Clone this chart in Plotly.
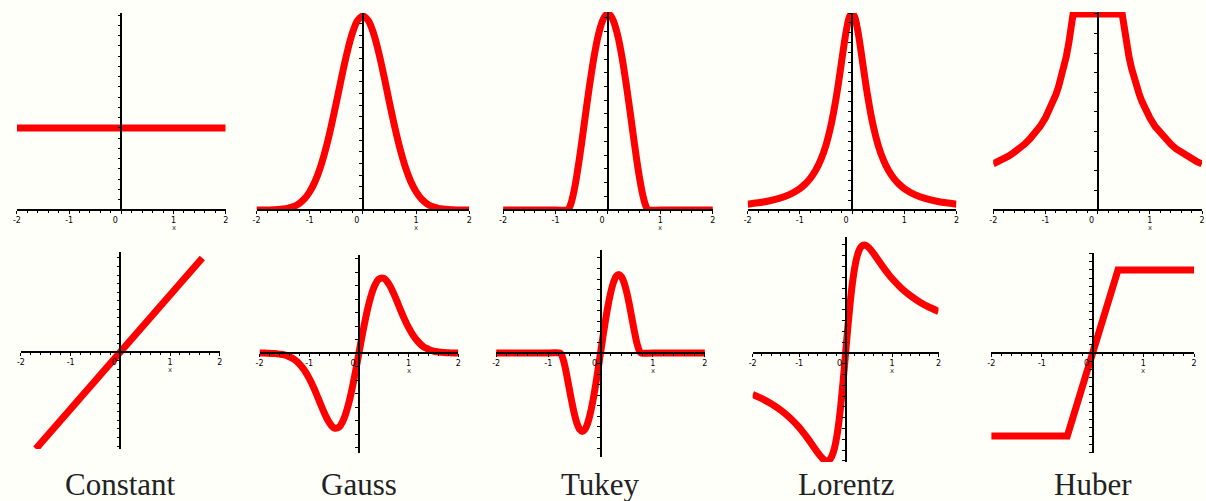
import plotly.graph_objects as go

W, H = 1206, 501
BG = "#fffffa"
RED = "#ff0000"

# ---------------- data ----------------
TITLES = ["Constant", "Gauss", "Tukey", "Lorentz", "Huber"]
X_TICK_VALS = [-2, -1, 0, 1, 2]
X_TICK_TEXT = ["-2", "-1", "0\u2003\u2002", "1", "2"]
X_MINOR_VALS = [-1.8, -1.6, -1.4, -1.2, -0.8, -0.6, -0.4, -0.2,
                0.2, 0.4, 0.6, 0.8, 1.2, 1.4, 1.6, 1.8]

# Constant
CONST_W_X = [-2.0, 2.0]
CONST_W = [1.0, 1.0]
CONST_P_X = [-1.7, 1.65]
CONST_P = [-1.7, 1.65]

# Gauss
GAUSS_X = [-2.0, -1.9, -1.8, -1.7, -1.6, -1.5, -1.4, -1.3, -1.2, -1.1, -1.0,
           -0.9, -0.8, -0.7, -0.6, -0.5, -0.4, -0.3, -0.2, -0.1, 0.0,
           0.1, 0.2, 0.3, 0.4, 0.5, 0.6, 0.7, 0.8, 0.9, 1.0,
           1.1, 1.2, 1.3, 1.4, 1.5, 1.6, 1.7, 1.8, 1.9, 2.0]
GAUSS_W = [0.0, 0.0, 0.0, 0.001, 0.002, 0.005, 0.01, 0.018, 0.033, 0.057, 0.094,
           0.147, 0.22, 0.314, 0.427, 0.553, 0.685, 0.808, 0.91, 0.977, 1.0,
           0.977, 0.91, 0.808, 0.685, 0.553, 0.427, 0.314, 0.22, 0.147, 0.094,
           0.057, 0.033, 0.018, 0.01, 0.005, 0.002, 0.001, 0.0, 0.0, 0.0]
GAUSS_P = [0.0, 0.0, -0.001, -0.002, -0.004, -0.007, -0.014, -0.023, -0.04, -0.063, -0.094,
           -0.132, -0.176, -0.22, -0.256, -0.277, -0.274, -0.242, -0.182, -0.098, 0.0,
           0.098, 0.182, 0.242, 0.274, 0.277, 0.256, 0.22, 0.176, 0.132, 0.094,
           0.063, 0.04, 0.023, 0.014, 0.007, 0.004, 0.002, 0.001, 0.0, 0.0]

# Tukey
TUKEY_X = [-2.0, -1.5, -1.0, -0.78, -0.75, -0.7, -0.65, -0.6, -0.55, -0.5, -0.45,
           -0.4, -0.35, -0.3, -0.25, -0.2, -0.15, -0.1, -0.05, 0.0,
           0.05, 0.1, 0.15, 0.2, 0.25, 0.3, 0.35, 0.4, 0.45, 0.5,
           0.55, 0.6, 0.65, 0.7, 0.75, 0.78, 1.0, 1.5, 2.0]
TUKEY_W = [0.0, 0.0, 0.0, 0.0, 0.0057, 0.038, 0.0933, 0.167, 0.2528, 0.347, 0.4451,
           0.543, 0.6378, 0.726, 0.8051, 0.873, 0.9274, 0.9674, 0.9918, 1.0,
           0.9918, 0.9674, 0.9274, 0.873, 0.8051, 0.726, 0.6378, 0.543, 0.4451, 0.347,
           0.2528, 0.167, 0.0933, 0.038, 0.0057, 0.0, 0.0, 0.0, 0.0]
TUKEY_P = [0.0, 0.0, 0.0, 0.0, -0.0043, -0.0265, -0.0606, -0.1, -0.139, -0.1735, -0.2003,
           -0.2172, -0.2232, -0.2178, -0.2013, -0.1746, -0.1391, -0.0967, -0.0496, 0.0,
           0.0496, 0.0967, 0.1391, 0.1746, 0.2013, 0.2178, 0.2232, 0.2172, 0.2003, 0.1735,
           0.139, 0.1, 0.0606, 0.0265, 0.0043, 0.0, 0.0, 0.0, 0.0]

# Lorentz
LORENTZ_W_X = [-2.0, -1.8, -1.6, -1.4, -1.2, -1.0, -0.9, -0.8, -0.7, -0.6, -0.5, -0.4,
               -0.3, -0.25, -0.2, -0.15, -0.1, -0.05, 0.0, 0.05, 0.1, 0.15, 0.2, 0.25,
               0.3, 0.4, 0.5, 0.6, 0.7, 0.8, 0.9, 1.0, 1.2, 1.4, 1.6, 1.8, 2.0]
LORENTZ_W = [0.0297, 0.0364, 0.0457, 0.0588, 0.0784, 0.109, 0.1314, 0.1607, 0.2, 0.254,
             0.329, 0.4336, 0.5765, 0.662, 0.754, 0.845, 0.9245, 0.98, 1.0, 0.98, 0.9245,
             0.845, 0.754, 0.662, 0.5765, 0.4336, 0.329, 0.254, 0.2, 0.1607, 0.1314, 0.109,
             0.0784, 0.0588, 0.0457, 0.0364, 0.0297]
LORENTZ_P_X = [-2.0, -1.8, -1.6, -1.4, -1.2, -1.0, -0.9, -0.8, -0.7, -0.6, -0.5, -0.45,
               -0.4, -0.35, -0.3, -0.25, -0.2, -0.15, -0.1, -0.05, 0.0,
               0.05, 0.1, 0.15, 0.2, 0.25, 0.3, 0.35, 0.4, 0.45, 0.5,
               0.6, 0.7, 0.8, 0.9, 1.0, 1.2, 1.4, 1.6, 1.8, 2.0]
LORENTZ_P = [-0.0769, -0.0847, -0.0941, -0.1057, -0.12, -0.1379, -0.1485, -0.16, -0.1723,
             -0.1846, -0.1951, -0.1986, -0.2, -0.1982, -0.192, -0.1798, -0.16, -0.1315,
             -0.0941, -0.0492, 0.0, 0.0492, 0.0941, 0.1315, 0.16, 0.1798, 0.192, 0.1982,
             0.2, 0.1986, 0.1951, 0.1846, 0.1723, 0.16, 0.1485, 0.1379, 0.12, 0.1057,
             0.0941, 0.0847, 0.0769]

# Huber
HUBER_W_X = [-2.0, -1.9, -1.8, -1.7, -1.6, -1.5, -1.4, -1.3, -1.2, -1.1, -1.0, -0.95,
             -0.9, -0.85, -0.8, -0.75, -0.7, -0.65, -0.6, -0.55, -0.5, -0.47,
             0.47, 0.5, 0.55, 0.6, 0.65, 0.7, 0.75, 0.8, 0.85, 0.9, 0.95, 1.0,
             1.1, 1.2, 1.3, 1.4, 1.5, 1.6, 1.7, 1.8, 1.9, 2.0]
HUBER_W = [0.235, 0.247, 0.261, 0.276, 0.294, 0.313, 0.336, 0.362, 0.392, 0.427, 0.47, 0.495,
           0.522, 0.553, 0.588, 0.627, 0.671, 0.723, 0.783, 0.855, 0.94, 1.0,
           1.0, 0.94, 0.855, 0.783, 0.723, 0.671, 0.627, 0.588, 0.553, 0.522, 0.495, 0.47,
           0.427, 0.392, 0.362, 0.336, 0.313, 0.294, 0.276, 0.261, 0.247, 0.235]
HUBER_P_X = [-2.0, -0.5, 0.5, 2.0]
HUBER_P = [-0.5, -0.5, 0.5, 0.5]

# (x values, y values, line shape) per panel: top row = weights, bottom row = influence
SERIES = [
    (CONST_W_X, CONST_W, "linear"),
    (GAUSS_X, GAUSS_W, "spline"),
    (TUKEY_X, TUKEY_W, "spline"),
    (LORENTZ_W_X, LORENTZ_W, "spline"),
    (HUBER_W_X, HUBER_W, "linear"),
    (CONST_P_X, CONST_P, "linear"),
    (GAUSS_X, GAUSS_P, "spline"),
    (TUKEY_X, TUKEY_P, "spline"),
    (LORENTZ_P_X, LORENTZ_P, "spline"),
    (HUBER_P_X, HUBER_P, "linear"),
]

# ---------------- layout geometry (pixels) ----------------
# left, right, top, bottom, ymin, ymax, y tick step
PANELS = [
    (13, 223, 13, 210, 0.0, 2.40, 0.125),
    (254, 468, 13, 210, 0.0, 1.0155, 0.06),
    (502, 713, 12, 210, 0.0, 1.01, 0.07),
    (748, 958, 13, 210, 0.0, 1.0, 0.05),
    (995, 1205, 12, 210, 0.0, 1.01, 0.1),
    (17, 217, 252, 449, -1.702, 1.754, 0.15),
    (257, 457, 255, 453, -0.370, 0.363, 0.05),
    (495, 705, 250, 457, -0.2955, 0.2926, 0.03),
    (753, 940, 237, 462, -0.2019, 0.2148, 0.02),
    (993, 1197, 253, 453, -0.602, 0.602, 0.05),
]

fig = go.Figure()
layout = dict(
    width=W, height=H,
    margin=dict(l=0, r=0, t=0, b=0),
    paper_bgcolor=BG, plot_bgcolor="rgba(0,0,0,0)",
    showlegend=False,
    font=dict(family="DejaVu Sans", size=8, color="black"),
    annotations=[],
)

for i, ((xs, ys, shape), (l, r, t, b, ymin, ymax, ydt)) in enumerate(zip(SERIES, PANELS), start=1):
    xa = "x" if i == 1 else f"x{i}"
    ya = "y" if i == 1 else f"y{i}"
    fig.add_trace(go.Scatter(
        x=xs, y=ys, mode="lines", xaxis=xa, yaxis=ya,
        line=dict(color=RED, width=7, shape=shape),
        hoverinfo="skip",
    ))
    yzero_px = t + (b - t) * ymax / (ymax - ymin)
    xzero_px = (l + r) / 2.0
    layout["xaxis" if i == 1 else f"xaxis{i}"] = dict(
        domain=[l / W, r / W], range=[-2, 2],
        anchor="free", position=1 - yzero_px / H,
        showline=True, linecolor="black", linewidth=1.6,
        showgrid=False, zeroline=False,
        tickmode="array", tickvals=X_TICK_VALS, ticktext=X_TICK_TEXT,
        ticks="outside", ticklen=3, tickwidth=1.2, tickcolor="black",
        tickfont=dict(family="DejaVu Sans", size=8, color="black"),
        minor=dict(tickmode="array", tickvals=X_MINOR_VALS, ticks="outside",
                   ticklen=2, tickwidth=1, tickcolor="black"),
        fixedrange=True,
    )
    layout["yaxis" if i == 1 else f"yaxis{i}"] = dict(
        domain=[1 - b / H, 1 - t / H], range=[ymin, ymax],
        anchor="free", position=xzero_px / W,
        showline=True, linecolor="black", linewidth=1.6,
        showgrid=False, zeroline=False,
        tickmode="linear", tick0=0, dtick=ydt,
        ticks="outside", ticklen=3, tickwidth=1, tickcolor="black",
        showticklabels=False, fixedrange=True,
    )
    # small axis name "x" below the x axis near x = 1
    if i != 4:
        layout["annotations"].append(dict(
            xref=xa, yref=ya, x=1, y=0, yshift=-18, text="x", showarrow=False,
            font=dict(family="DejaVu Sans", size=7, color="#333333"),
        ))

# panel titles under each column
for j, name in enumerate(TITLES):
    xa = f"x{j + 6}"
    layout["annotations"].append(dict(
        xref=xa, yref="paper", x=0, y=1 - 484.5 / H, yanchor="middle",
        text=name, showarrow=False,
        font=dict(family="Liberation Serif", size=31, color="#222222"),
    ))

fig.update_layout(**layout)
fig.write_html("out.html")
